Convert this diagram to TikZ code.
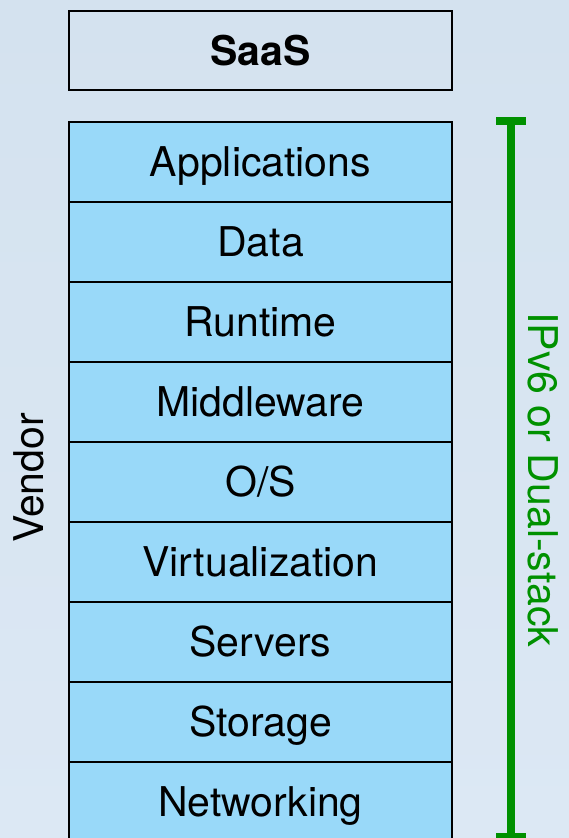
\documentclass[tikz,border=0pt]{standalone}
\usepackage{fontspec}
\setmainfont{TeX Gyre Heros}
\definecolor{bgtop}{HTML}{D4E2EF}
\definecolor{bgbot}{HTML}{DCE8F4}
\definecolor{layerfill}{HTML}{99D9F9}
\definecolor{rangegreen}{HTML}{009100}
\tikzset{
  big/.style={font=\fontsize{41bp}{48bp}\selectfont, text height=29bp, text depth=0bp, inner sep=0pt},
  layer/.style={big, draw=black, line width=2.4bp, fill=layerfill,
                minimum width=383bp, minimum height=80bp},
  topbox/.style={big, draw=black, line width=2.4bp, font=\fontsize{41bp}{48bp}\selectfont\bfseries,
                 minimum width=383bp, minimum height=79bp},
  rangebar/.style={draw=rangegreen, line width=8bp},
}
\begin{document}
\begin{tikzpicture}[x=1bp, y=-1bp]
  \useasboundingbox (0,0) rectangle (569,838);
  \clip (0,0) rectangle (569,838);
  \shade[top color=bgtop, bottom color=bgbot] (0,0) rectangle (569,838);

  % service model header
  \node[topbox] (saas) at (260.5,50.5) {SaaS};

  % stack of layers managed by the vendor
  \foreach \name/\label [count=\i from 0] in {apps/Applications, data/Data, runtime/Runtime,
      middleware/Middleware, os/{O/S}, virt/Virtualization, servers/Servers,
      storage/Storage, net/Networking}
    \node[layer] (\name) at (260.5,162+80*\i) {\label};

  \node[big, rotate=90] (vendor) at (28.5,478) {Vendor};

  % bracket marking the IPv6 span
  \coordinate (rtop) at (511,121);
  \coordinate (rbot) at (511,837);
  \draw[rangebar] (rtop) -- (rbot);
  \draw[rangebar] ([xshift=-15bp]rtop) -- ([xshift=15bp]rtop);
  \draw[rangebar] ([xshift=-15bp]rbot) -- ([xshift=15bp]rbot);
  \node[big, rotate=-90, text=rangegreen] (ipv6) at (543,480) {IPv6 or Dual-stack};
\end{tikzpicture}
\end{document}
